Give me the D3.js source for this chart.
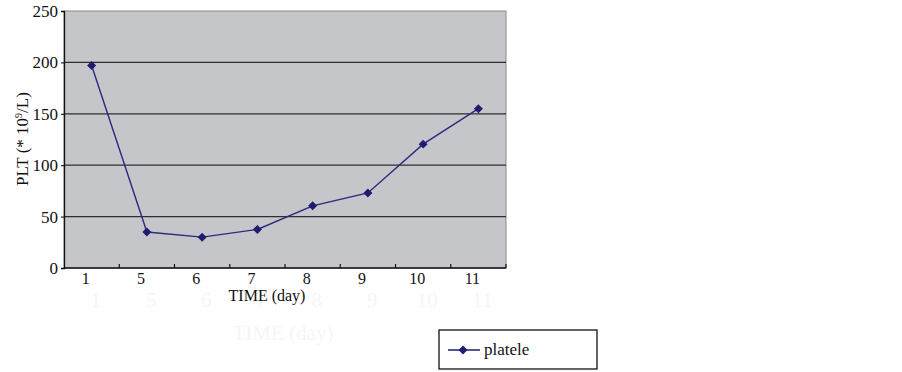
<!DOCTYPE html>
<html>
<head>
<meta charset="utf-8">
<script src="https://cdn.jsdelivr.net/npm/d3@7"></script>
<style>
  body { margin: 0; background: #fff; }
  svg { display: block; font-family: "Liberation Serif", "Times New Roman", serif; }
</style>
</head>
<body>
<div id="chart"></div>
<script>
// Platelet count over time
const days = ['1', '5', '6', '7', '8', '9', '10', '11'];
const platelet = [197, 35, 30, 37.5, 60.5, 73, 120.5, 155];
const yTicks = [0, 50, 100, 150, 200, 250];
const seriesName = 'platele';

const W = 902, H = 372;
const plot = { left: 64, right: 506, top: 11, bottom: 268 };

const svg = d3.select('#chart').append('svg')
  .attr('width', W).attr('height', H);

const x = d3.scaleBand().domain(days).range([plot.left, plot.right]);
const y = d3.scaleLinear().domain([0, 250]).range([plot.bottom, plot.top]);

// faint ghost labels left over in the scan
const ghost = svg.append('g').attr('fill', '#f6f6f6').attr('font-size', 21);
days.forEach((d) => {
  ghost.append('text').attr('x', x(d) + x.bandwidth() / 2 + 4).attr('y', 307)
    .attr('text-anchor', 'middle').text(d);
});
ghost.append('text').attr('x', 283).attr('y', 340)
  .attr('text-anchor', 'middle').text('TIME (day)');

// plot background
svg.append('rect')
  .attr('x', plot.left).attr('y', plot.top)
  .attr('width', plot.right - plot.left).attr('height', plot.bottom - plot.top)
  .attr('fill', '#c5c6ca').attr('stroke', '#8a8a8a').attr('stroke-width', 1);

// gridlines
svg.append('g')
  .selectAll('line')
  .data(yTicks.filter((t) => t > 0 && t < 250))
  .join('line')
  .attr('x1', plot.left).attr('x2', plot.right)
  .attr('y1', (d) => y(d)).attr('y2', (d) => y(d))
  .attr('stroke', '#2e2e2e').attr('stroke-width', 1.3);

// y axis
const yAxis = svg.append('g')
  .attr('transform', `translate(${plot.left},0)`)
  .call(d3.axisLeft(y).tickValues(yTicks).tickSize(3).tickPadding(3));
yAxis.select('.domain').attr('stroke', '#111').attr('stroke-width', 1.3);
yAxis.selectAll('text').attr('font-size', 17).attr('fill', '#111')
  .attr('font-family', '"Liberation Serif", serif');

// x axis: ticks between categories, pointing up
const xAxisG = svg.append('g');
xAxisG.append('line')
  .attr('x1', plot.left).attr('x2', plot.right)
  .attr('y1', plot.bottom).attr('y2', plot.bottom)
  .attr('stroke', '#111').attr('stroke-width', 1.3);
xAxisG.selectAll('line.tick')
  .data(days)
  .join('line')
  .attr('class', 'tick')
  .attr('x1', (d) => x(d) + x.bandwidth()).attr('x2', (d) => x(d) + x.bandwidth())
  .attr('y1', plot.bottom).attr('y2', plot.bottom - 4)
  .attr('stroke', '#111').attr('stroke-width', 1.2);
xAxisG.selectAll('text')
  .data(days)
  .join('text')
  .attr('x', (d) => x(d) + x.bandwidth() / 2 - 6)
  .attr('y', 284)
  .attr('text-anchor', 'middle')
  .attr('font-size', 16).attr('fill', '#111')
  .text((d) => d);

svg.append('text')
  .attr('x', 267).attr('y', 301)
  .attr('text-anchor', 'middle')
  .attr('font-size', 16).attr('fill', '#111')
  .text('TIME (day)');

// y label
const yl = svg.append('text')
  .attr('transform', 'translate(28,139) rotate(-90)')
  .attr('text-anchor', 'middle')
  .attr('font-size', 17).attr('fill', '#111');
yl.append('tspan').text('PLT (* 10');
yl.append('tspan').attr('font-size', 10).attr('dy', -6).text('9');
yl.append('tspan').attr('dy', 6).text('/L)');

// series
const lineColor = '#2b2a7e';
const markColor = '#1e1c6e';
const diamond = d3.symbol().type(d3.symbolSquare).size(40);

const pts = days.map((d, i) => ({ day: d, v: platelet[i] }));
svg.append('path')
  .datum(pts)
  .attr('fill', 'none')
  .attr('stroke', lineColor).attr('stroke-width', 1.4)
  .attr('d', d3.line()
    .x((d) => x(d.day) + x.bandwidth() / 2)
    .y((d) => y(d.v)));

svg.append('g')
  .selectAll('path')
  .data(pts)
  .join('path')
  .attr('transform', (d) => `translate(${x(d.day) + x.bandwidth() / 2},${y(d.v)}) rotate(45)`)
  .attr('d', diamond)
  .attr('fill', markColor);

// legend
const lg = svg.append('g').attr('transform', 'translate(439,330)');
lg.append('rect')
  .attr('width', 158).attr('height', 39)
  .attr('fill', '#fff').attr('stroke', '#111').attr('stroke-width', 1.3);
lg.append('line')
  .attr('x1', 9).attr('x2', 41).attr('y1', 20).attr('y2', 20)
  .attr('stroke', lineColor).attr('stroke-width', 1.6);
lg.append('path')
  .attr('transform', 'translate(24,20) rotate(45)')
  .attr('d', diamond)
  .attr('fill', markColor);
lg.append('text')
  .attr('x', 45).attr('y', 25)
  .attr('font-size', 17).attr('fill', '#111')
  .text(seriesName);
</script>
</body>
</html>
